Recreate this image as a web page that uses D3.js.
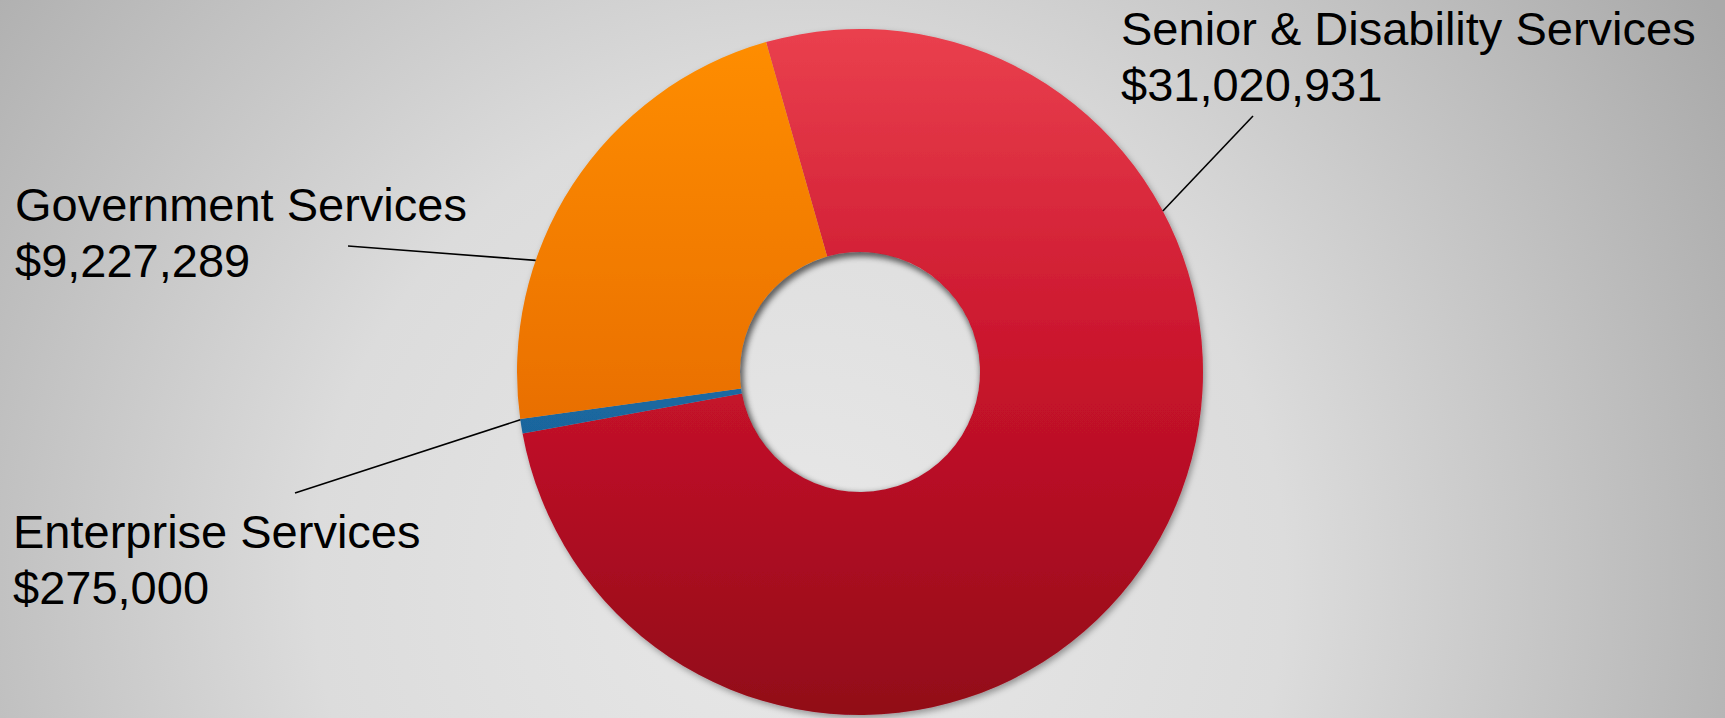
<!DOCTYPE html>
<html>
<head>
<meta charset="utf-8">
<script src="https://cdn.jsdelivr.net/npm/d3@7"></script>
<style>
  html, body { margin: 0; padding: 0; overflow: hidden; background: #d6d6d6; }
  svg { display: block; }
</style>
</head>
<body>
<svg id="chart" width="1725" height="718"></svg>
<script>
// Budget by service area
const categories = ["Senior & Disability Services", "Enterprise Services", "Government Services"];
const values = [31020931, 275000, 9227289];
const sliceKeys = ["senior", "enterprise", "government"];

const W = 1725, H = 718;
const cx = 860, cy = 372;
const outerR = 343, innerR = 120;
const startDeg = -15.9;

const svg = d3.select("#chart");
const defs = svg.append("defs");

// background: soft radial grey
const bg = defs.append("radialGradient").attr("id", "bg")
  .attr("gradientUnits", "userSpaceOnUse")
  .attr("cx", 800).attr("cy", 580).attr("r", 1080);
[[0, "#e8e8e8"], [0.45, "#dcdcdc"], [1, "#a9a9a9"]].forEach(([o, c]) =>
  bg.append("stop").attr("offset", o).attr("stop-color", c));
svg.append("rect").attr("width", W).attr("height", H).attr("fill", "url(#bg)");

// vertical fills for each slice (in ring-local coordinates)
const fills = {
  senior: [[0, "#ea404e"], [0.5, "#c8132b"], [1, "#910818"]],
  government: [[0, "#ff8e05"], [0.5, "#ec7302"], [1, "#d45800"]],
  enterprise: [[0, "#2a80bd"], [0.5, "#1b6aa3"], [1, "#124f80"]]
};
Object.entries(fills).forEach(([k, stops]) => {
  const g = defs.append("linearGradient").attr("id", "g-" + k)
    .attr("gradientUnits", "userSpaceOnUse")
    .attr("x1", 0).attr("y1", -outerR).attr("x2", 0).attr("y2", outerR);
  stops.forEach(([o, c]) => g.append("stop").attr("offset", o).attr("stop-color", c));
});

// drop shadow under the ring
const ds = defs.append("filter").attr("id", "shadow")
  .attr("x", "-10%").attr("y", "-10%").attr("width", "120%").attr("height", "120%");
ds.append("feDropShadow").attr("dx", 2).attr("dy", 3).attr("stdDeviation", 3)
  .attr("flood-color", "#000").attr("flood-opacity", 0.35);

const blur = defs.append("filter").attr("id", "blur")
  .attr("x", "-20%").attr("y", "-20%").attr("width", "140%").attr("height", "140%");
blur.append("feGaussianBlur").attr("stdDeviation", 3);

defs.append("clipPath").attr("id", "hole")
  .append("circle").attr("cx", cx).attr("cy", cy).attr("r", innerR);

const rad = d => d * Math.PI / 180;
const pie = d3.pie().sort(null).value(d => d.value)
  .startAngle(rad(startDeg)).endAngle(rad(startDeg) + 2 * Math.PI);
const arc = d3.arc().innerRadius(innerR).outerRadius(outerR);

const data = categories.map((c, i) => ({ name: c, value: values[i], key: sliceKeys[i] }));
const arcs = pie(data);

const ring = svg.append("g").attr("transform", `translate(${cx},${cy})`)
  .attr("filter", "url(#shadow)");
ring.selectAll("path").data(arcs).join("path")
  .attr("d", arc)
  .attr("fill", d => `url(#g-${d.data.key})`);

// inner shadow inside the hole
svg.append("g").attr("clip-path", "url(#hole)")
  .append("circle")
  .attr("cx", cx + 2).attr("cy", cy + 3).attr("r", innerR + 3)
  .attr("fill", "none").attr("stroke", "rgba(0,0,0,0.45)").attr("stroke-width", 8)
  .attr("filter", "url(#blur)");

// labels and leader lines
const fmt = d3.format("$,");
const labelLayout = {
  senior:     { x: 1121, y: 45,  lx: 1253, ly: 116, deg: 62 },
  government: { x: 15,   y: 221, lx: 348,  ly: 246, deg: 289 },
  enterprise: { x: 13,   y: 548, lx: 295,  ly: 493, deg: 262 }
};
const lineGap = 56;

const labels = svg.append("g");
data.forEach(d => {
  const L = labelLayout[d.key];
  const a = rad(L.deg);
  const ex = cx + outerR * Math.sin(a), ey = cy - outerR * Math.cos(a);
  labels.append("line")
    .attr("x1", L.lx).attr("y1", L.ly).attr("x2", ex).attr("y2", ey)
    .attr("stroke", "#000").attr("stroke-width", 1.6);
  const t = labels.append("text")
    .attr("x", L.x).attr("y", L.y)
    .attr("font-family", "'Liberation Sans', Arial, sans-serif")
    .attr("font-size", 47).attr("fill", "#000");
  t.append("tspan").attr("x", L.x).attr("y", L.y).text(d.name);
  t.append("tspan").attr("x", L.x).attr("y", L.y + lineGap).text(fmt(d.value));
});
</script>
</body>
</html>
